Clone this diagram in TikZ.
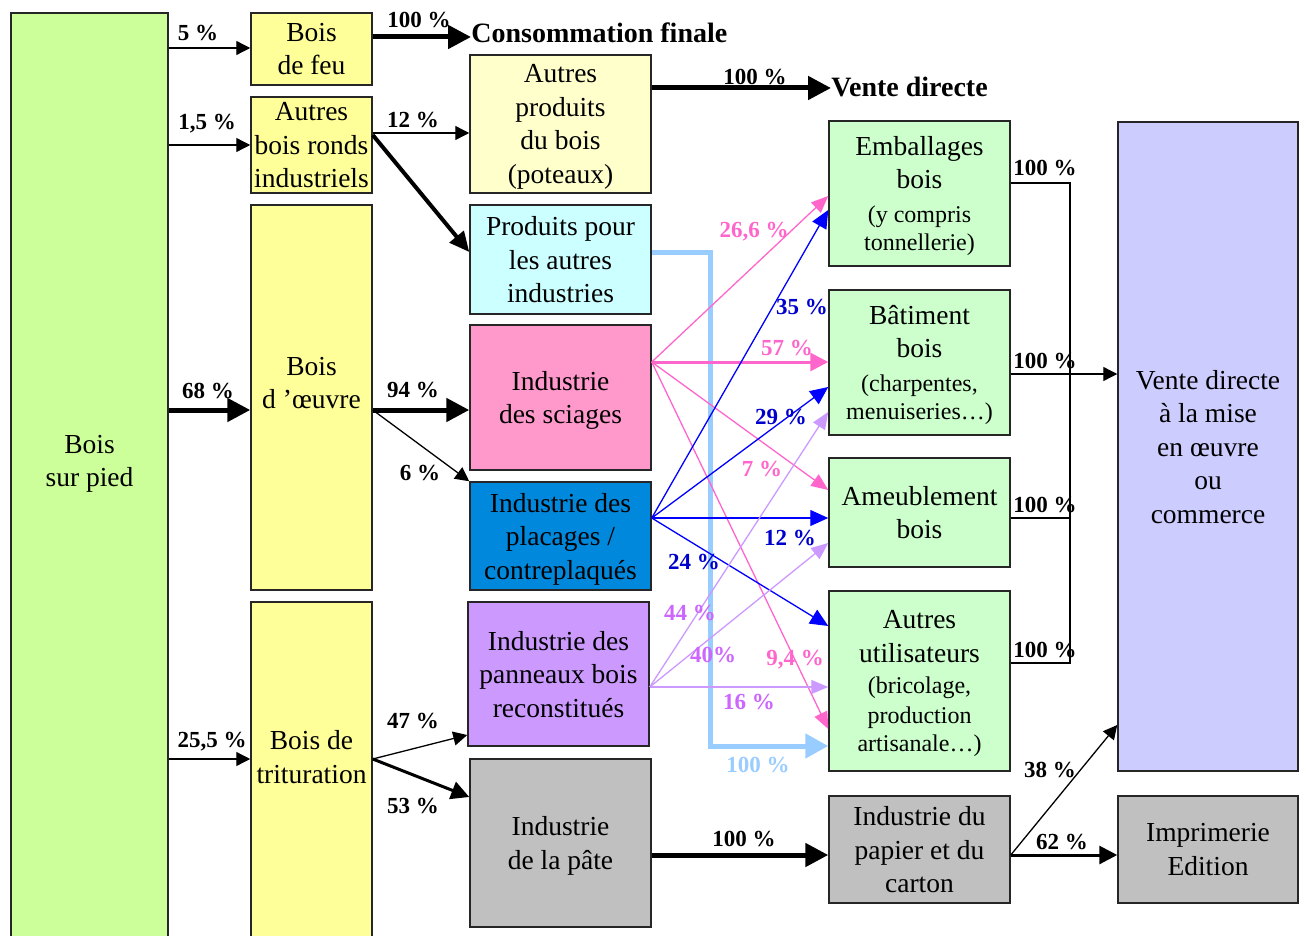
\documentclass[tikz,border=0pt]{standalone}
\usepackage{fontspec}
\setmainfont{Liberation Serif}
\usetikzlibrary{arrows.meta}
\definecolor{cpied}{HTML}{CCFF99}
\definecolor{cyel}{HTML}{FFFF99}
\definecolor{cpale}{HTML}{FFFFCC}
\definecolor{ccyan}{HTML}{CCFFFF}
\definecolor{cpinkf}{HTML}{FF99CC}
\definecolor{cplac}{HTML}{0088DD}
\definecolor{cpurf}{HTML}{CC99FF}
\definecolor{cgrey}{HTML}{C0C0C0}
\definecolor{cgreen}{HTML}{CCFFCC}
\definecolor{cvente}{HTML}{CCCCFF}
\definecolor{cpink}{HTML}{FF66CC}
\definecolor{cblue}{HTML}{0000FF}
\definecolor{cbluel}{HTML}{0000CC}
\definecolor{cpur}{HTML}{CC99FF}
\definecolor{cpurl}{HTML}{CC66FF}
\definecolor{clb}{HTML}{99CCFF}
\newcommand\bigtxt{\fontsize{13.75pt}{16.75pt}\selectfont}
\newcommand\smtxt{\fontsize{12pt}{14pt}\selectfont}
\newcommand\lbltxt{\bfseries\fontsize{11.5pt}{13pt}\selectfont}
\newcommand\hdtxt{\bfseries\fontsize{14pt}{16pt}\selectfont}
\begin{document}
\begin{tikzpicture}[x=0.5pt,y=-0.5pt,
  box/.style={draw=black!85, line width=0.75pt, align=center, inner sep=0pt, font=\bigtxt, text depth=0pt},
  btxt/.style={align=center, inner sep=0pt, font=\bigtxt},
  lbl/.style={font=\lbltxt, inner sep=0pt},
  thinarr/.style={line width=0.65pt, -{Triangle[length=7pt,width=7pt]}},
  medarr/.style={line width=1.5pt, -{Triangle[length=9pt,width=9pt]}},
  thickarr/.style={line width=2.5pt, -{Triangle[length=11.5pt,width=11.5pt]}},
  pinkarr/.style={cpink, line width=0.65pt, -{Triangle[length=8.5pt,width=7pt]}},
  bluearr/.style={cblue, line width=0.65pt, -{Triangle[length=9pt,width=8pt]}},
  purarr/.style={cpur, line width=0.65pt, -{Triangle[length=8.5pt,width=7pt]}},
  plain/.style={line width=0.65pt}
]
\useasboundingbox (0,0) rectangle (1306,936);
% boxes
\node[box, fill=cpied, minimum width=78.5pt, minimum height=463.5pt] (pied) at (89.5,476.5) {};
\node[btxt] (tpied) at (89.5,464) {Bois\\sur pied};
\node[box, fill=cyel, minimum width=60.5pt, minimum height=36pt] (feu) at (311.5,49) {Bois\\de feu};
\node[box, fill=cyel, minimum width=60.5pt, minimum height=48pt] (ronds) at (311.5,145) {Autres\\bois ronds\\industriels};
\node[box, fill=cyel, minimum width=60.5pt, minimum height=192.5pt] (oeuvre) at (311.5,397.5) {};
\node[btxt] (toeuvre) at (311.5,383) {Bois\\d ’œuvre};
\node[box, fill=cyel, minimum width=60.5pt, minimum height=169pt] (trit) at (311.5,771) {};
\node[btxt] (ttrit) at (311.5,757) {Bois de\\trituration};
\node[box, fill=cpale, minimum width=90.5pt, minimum height=69pt] (prod) at (560.5,124) {Autres\\produits\\du bois\\(poteaux)};
\node[box, fill=ccyan, minimum width=90.5pt, minimum height=54.5pt] (pour) at (560.5,259.5) {Produits pour\\les autres\\industries};
\node[box, fill=cpinkf, minimum width=90.5pt, minimum height=72.5pt] (sci) at (560.5,397.5) {Industrie\\des sciages};
\node[box, fill=cplac, minimum width=90.5pt, minimum height=54pt] (plac) at (560.5,536) {Industrie des\\placages /\\contreplaqués};
\node[box, fill=cpurf, minimum width=90.5pt, minimum height=72pt] (pan) at (558.5,674) {Industrie des\\panneaux bois\\reconstitués};
\node[box, fill=cgrey, minimum width=90.5pt, minimum height=84pt] (pate) at (560.5,843) {Industrie\\de la pâte};
\node[box, fill=cgreen, minimum width=90.5pt, minimum height=72.5pt] (emb) at (919.5,193.5) {Emballages\\bois\\\smtxt (y compris\\[-2.5pt]\smtxt tonnellerie)};
\node[box, fill=cgreen, minimum width=90.5pt, minimum height=72.5pt] (bat) at (919.5,362.5) {Bâtiment\\bois\\\smtxt (charpentes,\\[-2.5pt]\smtxt menuiseries…)};
\node[box, fill=cgreen, minimum width=90.5pt, minimum height=54.5pt] (ameub) at (919.5,512.5) {Ameublement\\bois};
\node[box, fill=cgreen, minimum width=90.5pt, minimum height=90pt] (autres) at (919.5,681) {Autres\\utilisateurs\\[-1pt]\smtxt (bricolage,\\[-2pt]\smtxt production\\[-2.5pt]\smtxt artisanale…)};
\node[box, fill=cgrey, minimum width=90.5pt, minimum height=53.5pt] (pap) at (919.5,849.5) {Industrie du\\papier et du\\carton};
\node[box, fill=cvente, minimum width=90pt, minimum height=324.5pt] (vente) at (1208,446.5) {Vente directe\\à la mise\\en œuvre\\ou\\commerce};
\node[box, fill=cgrey, minimum width=90pt, minimum height=53.5pt] (impr) at (1208,849.5) {Imprimerie\\Edition};
% headings
\node[font=\hdtxt, anchor=west, inner sep=0pt] (cf) at (471,33) {Consommation finale};
\node[font=\hdtxt, anchor=west, inner sep=0pt] (vd) at (831,87) {Vente directe};
% black connectors
\draw[thinarr] (pied.east |- 0,48) -- (feu.west |- 0,48);
\draw[thinarr] (pied.east |- 0,145) -- (ronds.west |- 0,145);
\draw[thickarr] (pied.east |- 0,410) -- (oeuvre.west |- 0,410);
\draw[thinarr] (pied.east |- 0,759) -- (trit.west |- 0,759);
\draw[thickarr] (feu.east |- 0,37) -- (cf.west |- 0,37);
\draw[thinarr] (ronds.east |- 0,133) -- (prod.west |- 0,133);
\draw[line width=2pt, -{Triangle[length=10pt,width=9pt]}] (ronds.east |- 0,135) -- (pour.west |- 0,252);
\draw[thickarr] (prod.east |- 0,88) -- (vd.west |- 0,88);
\draw[thickarr] (oeuvre.east |- 0,410) -- (sci.west |- 0,410);
\draw[thinarr] (oeuvre.east |- 0,410) -- (plac.north west);
\draw[thinarr] (trit.east |- 0,759) -- (pan.west |- 0,735);
\draw[medarr] (trit.east |- 0,759) -- (pate.west |- 0,797);
\draw[thickarr] (pate.east |- 0,855) -- (pap.west |- 0,855);
\draw[thinarr] (pap.east |- 0,855) -- (vente.west |- 0,725);
\draw[medarr] (pap.east |- 0,855) -- (impr.west |- 0,855);
% collectors to vente
\draw[plain] (emb.east |- 0,183) -- (1070,183) -- (1070,663) -- (autres.east |- 0,663);
\draw[plain] (ameub.east |- 0,518) -- (1070,518);
\draw[thinarr] (bat.east |- 0,374) -- (vente.west |- 0,374);
% light blue
\draw[clb, line width=2.5pt, -{Triangle[length=11.5pt,width=12pt]}] (pour.east |- 0,253) -- (710,253) -- (710,746) -- (autres.west |- 0,746);
% pink
\draw[pinkarr] (sci.east |- 0,362) -- (emb.west |- 0,196);
\draw[pinkarr, line width=1.5pt, -{Triangle[length=9pt,width=9pt]}] (sci.east |- 0,362) -- (bat.west |- 0,362);
\draw[pinkarr] (sci.east |- 0,362) -- (ameub.west |- 0,490);
\draw[pinkarr] (sci.east |- 0,362) -- (autres.west |- 0,729);
% blue
\draw[bluearr] (plac.east |- 0,518) -- (emb.west |- 0,210);
\draw[bluearr] (plac.east |- 0,518) -- (bat.west |- 0,387);
\draw[bluearr] (plac.east |- 0,518) -- (ameub.west |- 0,518);
\draw[bluearr] (plac.east |- 0,518) -- (autres.west |- 0,626);
% purple
\draw[purarr] (pan.east |- 0,687) -- (bat.west |- 0,412);
\draw[purarr] (pan.east |- 0,687) -- (ameub.west |- 0,543);
\draw[purarr] (pan.east |- 0,687) -- (autres.west |- 0,687);
% labels
\node[lbl] (l1) at (198,33) {5 \%};
\node[lbl] (l2) at (207,124) {1,5 \%};
\node[lbl] (l3) at (208,391) {68 \%};
\node[lbl] (l4) at (212,742) {25,5 \%};
\node[lbl] (l5) at (419,20) {100 \%};
\node[lbl] (l6) at (413,120) {12 \%};
\node[lbl] (l7) at (413,390) {94 \%};
\node[lbl] (l8) at (420,473) {6 \%};
\node[lbl] (l9) at (413,721) {47 \%};
\node[lbl] (l10) at (413,806) {53 \%};
\node[lbl] (l11) at (755,77) {100 \%};
\node[lbl] (l12) at (744,839) {100 \%};
\node[lbl] (l13) at (1050,770) {38 \%};
\node[lbl] (l14) at (1062,842) {62 \%};
\node[lbl] (l15) at (1045,168) {100 \%};
\node[lbl] (l16) at (1045,361) {100 \%};
\node[lbl] (l17) at (1045,505) {100 \%};
\node[lbl] (l18) at (1045,650) {100 \%};
\node[lbl, cpink] (p1) at (754,232) {26,6 \%};
\node[lbl, cpink] (p2) at (787,348) {57 \%};
\node[lbl, cpink] (p3) at (762,469) {7 \%};
\node[lbl, cpink] (p4) at (795,660) {9,4 \%};
\node[lbl, cbluel] (b1) at (802,307) {35 \%};
\node[lbl, cbluel] (b2) at (781,417) {29 \%};
\node[lbl, cbluel] (b3) at (790,538) {12 \%};
\node[lbl, cbluel] (b4) at (694,562) {24 \%};
\node[lbl, cpurl] (u1) at (690,613) {44 \%};
\node[lbl, cpurl] (u2) at (713,655) {40\%};
\node[lbl, cpurl] (u3) at (749,702) {16 \%};
\node[lbl, clb] (lb) at (758,765) {100 \%};
\end{tikzpicture}
\end{document}
